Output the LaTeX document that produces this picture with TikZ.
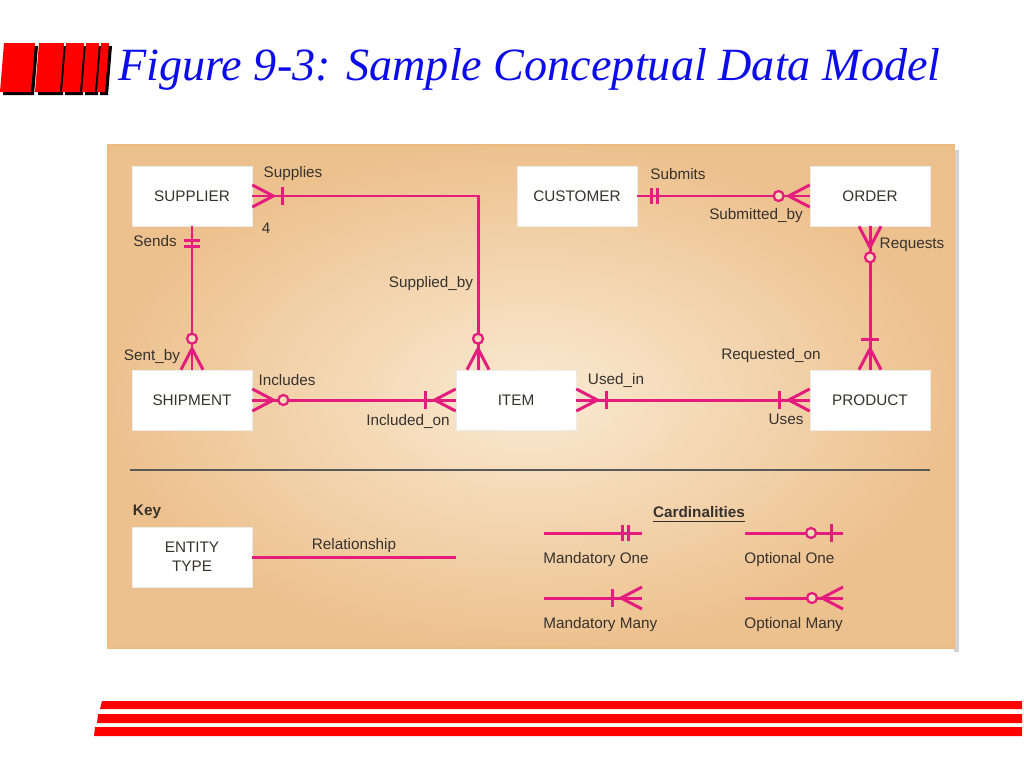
\documentclass[tikz,border=0pt]{standalone}
\usepackage{fontspec}
\setsansfont{Liberation Sans}
\newfontfamily\ttlfont{Liberation Serif}
\usepackage{tikz}
\usetikzlibrary{calc}

\definecolor{erpink}{RGB}{228,28,125}
\definecolor{bgdark}{RGB}{237,193,142}
\definecolor{bglight}{RGB}{250,234,210}
\definecolor{txtgray}{RGB}{55,50,45}
\definecolor{ttlblue}{RGB}{12,12,235}
\definecolor{barred}{RGB}{255,0,0}

\begin{document}
\begin{tikzpicture}[x=0.02cm, y=-0.02cm,
  entity/.style={draw=black!8, fill=white, minimum width=2.4cm,
                 minimum height=1.2cm, inner sep=0pt, align=center,
                 font=\sffamily\fontsize{8.7}{10.8}\selectfont, text=txtgray},
  lbl/.style={font=\sffamily\fontsize{8.7}{10.4}\selectfont, text=txtgray, inner sep=0pt},
  rel/.style={draw=erpink, line width=1.7pt},
  ring/.style={draw=erpink, line width=1.3pt, fill=bglight!60!bgdark},
  pics/mandone/.style={code={
    \draw[rel] (14,-8) -- (14,8); \draw[rel] (20,-8) -- (20,8);}},
  pics/optone/.style={code={
    \draw[rel] (12,-9) -- (12,9); \draw[ring] (32,0) circle (5);}},
  pics/mandmany/.style={code={
    \draw[rel] (0,-11) -- (21,0) -- (0,11); \draw[rel] (30,-9) -- (30,9);}},
  pics/optmany/.style={code={
    \draw[rel] (0,-11) -- (21,0) -- (0,11); \draw[ring] (31,0) circle (5);}}
]
\useasboundingbox (0,0) rectangle (1024,768);

% Header: logo bars, title, bottom stripes
\foreach \xa/\xb in {2/33, 37/62, 64/82, 84/97, 99/107} {
  \fill[black] (\xa+5,46) -- (\xb+5,46) -- (\xb+1,95) -- (\xa+1,95) -- cycle;
  \fill[barred] (\xa+2,43) -- (\xb+2,43) -- (\xb-2,92) -- (\xa-2,92) -- cycle;
}
\node[anchor=base west, inner sep=0pt, text=ttlblue,
      font=\ttlfont\itshape\fontsize{26.3}{30}\selectfont] (title) at (118,80)
      {Figure 9-3: Sample Conceptual Data Model};
\fill[barred] (102,701) -- (1022,701) -- (1022,709) -- (100,709) -- cycle;
\fill[barred] (98,714) -- (1022,714) -- (1022,723) -- (97,723) -- cycle;
\fill[barred] (95,727) -- (1022,727) -- (1022,736) -- (94,736) -- cycle;

% Panel
\fill[gray!35] (954,150) rectangle (959,652);
\shade[inner color=bglight, outer color=bgdark] (108,145) rectangle (954,648);
\draw[bgdark!90!orange, line width=1.2pt] (108,145) rectangle (954,648);

% Entities
\node[entity] (sup)  at (192,196) {SUPPLIER};
\node[entity] (cus)  at (577,196) {CUSTOMER};
\node[entity] (ord)  at (870,196) {ORDER};
\node[entity] (shp)  at (192,400) {SHIPMENT};
\node[entity] (itm)  at (516,400) {ITEM};
\node[entity] (prd)  at (870,400) {PRODUCT};

% Relationships
\draw[rel] (sup.east) -| ($(itm.north)+(-38,0)$);
\draw[rel] (sup.south) -- (shp.north);
\draw[rel] (cus.east) -- (ord.west);
\draw[rel] (ord.south) -- (prd.north);
\draw[rel] (shp.east) -- (itm.west);
\draw[rel] (itm.east) -- (prd.west);

% Cardinality ends
\pic at (sup.east) {mandmany};
\pic[rotate=90] at ($(itm.north)+(-38,0)$) {optmany};
\pic[rotate=-90] at (sup.south) {mandone};
\pic[rotate=90] at (shp.north) {optmany};
\pic at (cus.east) {mandone};
\pic[rotate=180] at (ord.west) {optmany};
\pic[rotate=-90] at (ord.south) {optmany};
\pic[rotate=90] at (prd.north) {mandmany};
\pic at (shp.east) {optmany};
\pic[rotate=180] at (itm.west) {mandmany};
\pic at (itm.east) {mandmany};
\pic[rotate=180] at (prd.west) {mandmany};

% Relationship labels
\node[lbl] (supplies)  at (293,174) {Supplies};
\node[lbl] (four)      at (266,228) {4};
\node[lbl] (sends)     at (155,241) {Sends};
\node[lbl] (suppby)    at (431,284) {Supplied\_by};
\node[lbl] (sentby)    at (152,357) {Sent\_by};
\node[lbl] (submits)   at (678,174) {Submits};
\node[lbl] (submby)    at (756,216) {Submitted\_by};
\node[lbl] (requests)  at (912,245) {Requests};
\node[lbl] (reqon)     at (771,356) {Requested\_on};
\node[lbl] (includes)  at (287,380) {Includes};
\node[lbl] (inclon)    at (408,421) {Included\_on};
\node[lbl] (usedin)    at (616,380) {Used\_in};
\node[lbl] (uses)      at (786,419) {Uses};

% Separator
\coordinate (sepl) at (130,470);
\coordinate (sepr) at (930,470);
\draw[black!65, line width=0.6pt] (sepl) -- (sepr);

% Key
\node[lbl, font=\sffamily\bfseries\fontsize{8.7}{10.4}\selectfont] (key) at (147,512) {Key};
\node[entity] (ent) at (192,557) {ENTITY\\TYPE};
\coordinate (relend) at (456,557);
\draw[rel] (ent.east) -- (relend);
\node[lbl] (relname) at (354,546) {Relationship};

\node[lbl, font=\sffamily\bfseries\fontsize{8.7}{10.4}\selectfont] (card) at (699,512) {Cardinalities};
\draw[txtgray, line width=0.5pt] ($(card.south west)+(0,3)$) -- ($(card.south east)+(0,3)$);

\coordinate (mo1) at (544,533); \coordinate (mo2) at (642,533);
\coordinate (oo1) at (745,533); \coordinate (oo2) at (843,533);
\coordinate (mm1) at (544,598); \coordinate (mm2) at (642,598);
\coordinate (om1) at (745,598); \coordinate (om2) at (843,598);
\draw[rel] (mo1) -- (mo2);
\draw[rel] (oo1) -- (oo2);
\draw[rel] (mm1) -- (mm2);
\draw[rel] (om1) -- (om2);
\pic[rotate=180] at (mo2) {mandone};
\pic[rotate=180] at (oo2) {optone};
\pic[rotate=180] at (mm2) {mandmany};
\pic[rotate=180] at (om2) {optmany};

\node[lbl, anchor=west] (moname) at (543,560) {Mandatory One};
\node[lbl, anchor=west] (ooname) at (744,560) {Optional One};
\node[lbl, anchor=west] (mmname) at (543,625) {Mandatory Many};
\node[lbl, anchor=west] (omname) at (744,625) {Optional Many};
\end{tikzpicture}
\end{document}
